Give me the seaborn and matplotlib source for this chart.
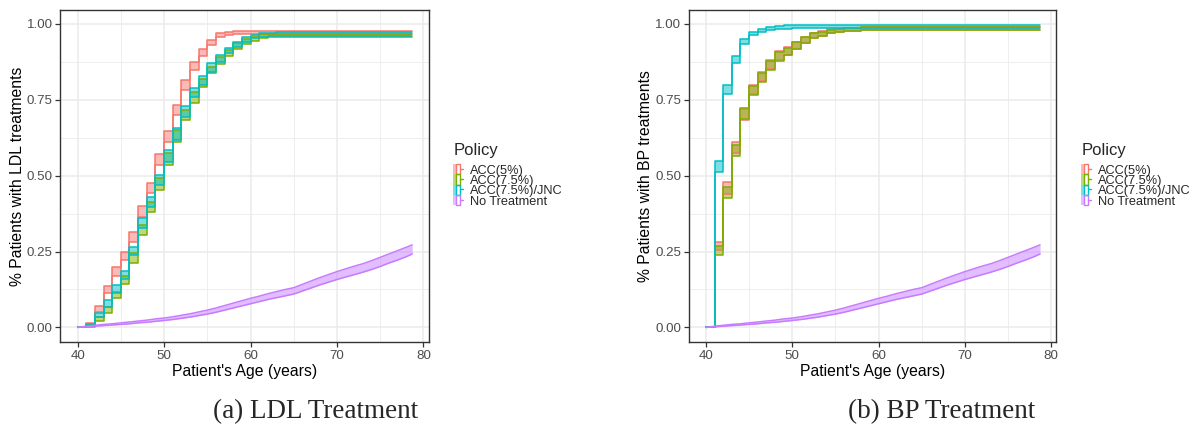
import numpy as np
import pandas as pd
import matplotlib.pyplot as plt
import seaborn as sns
from matplotlib.patches import Patch
from matplotlib.lines import Line2D
from matplotlib.legend_handler import HandlerTuple
from matplotlib.ticker import MultipleLocator


# ages (one value per year, last point is the end of the simulation)
ages = [40, 41, 42, 43, 44, 45, 46, 47, 48, 49,
        50, 51, 52, 53, 54, 55, 56, 57, 58, 59,
        60, 61, 62, 63, 64, 65, 66, 67, 68, 69,
        70, 71, 72, 73, 74, 75, 76, 77, 78, 78.7]

policies = ['ACC(5%)', 'ACC(7.5%)', 'ACC(7.5%)/JNC', 'No Treatment']
colors = ['#F8766D', '#7CAE00', '#00BFC4', '#C77CFF']

# ---- LDL treatment: lower / upper bounds ----
ldl_acc5_lo = [0.000, 0.008, 0.052, 0.112, 0.170, 0.222, 0.282, 0.365, 0.442, 0.535,
               0.612, 0.700, 0.782, 0.848, 0.895, 0.930, 0.957, 0.964, 0.966, 0.967,
               0.967, 0.967, 0.967, 0.967, 0.967, 0.967, 0.967, 0.967, 0.967, 0.967,
               0.967, 0.967, 0.967, 0.967, 0.967, 0.967, 0.967, 0.967, 0.967, 0.967]
ldl_acc5_hi = [0.002, 0.015, 0.070, 0.137, 0.200, 0.249, 0.315, 0.400, 0.477, 0.572,
               0.648, 0.732, 0.815, 0.875, 0.917, 0.948, 0.969, 0.975, 0.977, 0.978,
               0.978, 0.978, 0.978, 0.978, 0.978, 0.978, 0.978, 0.978, 0.978, 0.978,
               0.978, 0.978, 0.978, 0.978, 0.978, 0.978, 0.978, 0.978, 0.978, 0.978]
ldl_acc75_lo = [0.000, 0.003, 0.022, 0.048, 0.096, 0.143, 0.213, 0.304, 0.380, 0.453,
                0.535, 0.612, 0.684, 0.738, 0.791, 0.837, 0.868, 0.894, 0.916, 0.934,
                0.945, 0.953, 0.956, 0.957, 0.957, 0.957, 0.957, 0.957, 0.957, 0.957,
                0.957, 0.957, 0.957, 0.957, 0.957, 0.957, 0.957, 0.957, 0.957, 0.957]
ldl_acc75_hi = [0.002, 0.008, 0.035, 0.068, 0.118, 0.170, 0.244, 0.337, 0.414, 0.491,
                0.574, 0.650, 0.716, 0.777, 0.818, 0.859, 0.892, 0.914, 0.936, 0.949,
                0.958, 0.966, 0.967, 0.968, 0.968, 0.968, 0.968, 0.968, 0.968, 0.968,
                0.968, 0.968, 0.968, 0.968, 0.968, 0.968, 0.968, 0.968, 0.968, 0.968]
ldl_jnc_lo = [0.000, 0.004, 0.033, 0.068, 0.112, 0.160, 0.238, 0.326, 0.398, 0.469,
              0.546, 0.618, 0.695, 0.760, 0.800, 0.843, 0.876, 0.903, 0.925, 0.942,
              0.953, 0.958, 0.960, 0.961, 0.961, 0.961, 0.961, 0.961, 0.961, 0.961,
              0.961, 0.961, 0.961, 0.961, 0.961, 0.961, 0.961, 0.961, 0.961, 0.961]
ldl_jnc_hi = [0.002, 0.010, 0.048, 0.090, 0.140, 0.187, 0.266, 0.360, 0.430, 0.502,
              0.585, 0.656, 0.730, 0.788, 0.829, 0.870, 0.898, 0.922, 0.942, 0.956,
              0.964, 0.969, 0.971, 0.972, 0.972, 0.972, 0.972, 0.972, 0.972, 0.972,
              0.972, 0.972, 0.972, 0.972, 0.972, 0.972, 0.972, 0.972, 0.972, 0.972]

# ---- No treatment (same in both panels) ----
none_lo = [0.000, 0.002, 0.004, 0.006, 0.008, 0.010, 0.012, 0.015, 0.017, 0.020,
           0.023, 0.026, 0.030, 0.034, 0.039, 0.044, 0.050, 0.057, 0.064, 0.071,
           0.078, 0.085, 0.092, 0.098, 0.104, 0.110, 0.120, 0.130, 0.140, 0.149,
           0.158, 0.166, 0.174, 0.182, 0.191, 0.201, 0.212, 0.222, 0.233, 0.242]
none_hi = [0.000, 0.004, 0.007, 0.010, 0.012, 0.015, 0.018, 0.021, 0.024, 0.028,
           0.031, 0.035, 0.040, 0.045, 0.051, 0.057, 0.064, 0.072, 0.080, 0.088,
           0.096, 0.103, 0.111, 0.118, 0.125, 0.131, 0.142, 0.153, 0.164, 0.174,
           0.184, 0.193, 0.202, 0.210, 0.220, 0.231, 0.242, 0.253, 0.264, 0.272]

# ---- BP treatment: lower / upper bounds ----
bp_acc5_lo = [0.000, 0.255, 0.440, 0.575, 0.684, 0.770, 0.812, 0.851, 0.880, 0.898,
              0.918, 0.938, 0.953, 0.961, 0.969, 0.973, 0.976, 0.978, 0.979, 0.980,
              0.980, 0.980, 0.980, 0.980, 0.980, 0.980, 0.980, 0.980, 0.980, 0.980,
              0.980, 0.980, 0.980, 0.980, 0.980, 0.980, 0.980, 0.980, 0.980, 0.980]
bp_acc5_hi = [0.002, 0.282, 0.480, 0.612, 0.720, 0.800, 0.842, 0.881, 0.910, 0.924,
              0.941, 0.957, 0.970, 0.976, 0.982, 0.985, 0.987, 0.988, 0.989, 0.990,
              0.990, 0.990, 0.990, 0.990, 0.990, 0.990, 0.990, 0.990, 0.990, 0.990,
              0.990, 0.990, 0.990, 0.990, 0.990, 0.990, 0.990, 0.990, 0.990, 0.990]
bp_acc75_lo = [0.000, 0.240, 0.425, 0.565, 0.688, 0.766, 0.810, 0.848, 0.878, 0.898,
               0.918, 0.938, 0.953, 0.960, 0.969, 0.972, 0.976, 0.978, 0.979, 0.980,
               0.981, 0.981, 0.981, 0.981, 0.981, 0.981, 0.981, 0.981, 0.981, 0.981,
               0.981, 0.981, 0.981, 0.981, 0.981, 0.981, 0.981, 0.981, 0.981, 0.981]
bp_acc75_hi = [0.002, 0.268, 0.462, 0.600, 0.722, 0.797, 0.839, 0.877, 0.906, 0.922,
               0.940, 0.956, 0.969, 0.975, 0.981, 0.985, 0.987, 0.988, 0.989, 0.990,
               0.991, 0.991, 0.991, 0.991, 0.991, 0.991, 0.991, 0.991, 0.991, 0.991,
               0.991, 0.991, 0.991, 0.991, 0.991, 0.991, 0.991, 0.991, 0.991, 0.991]
bp_jnc_lo = [0.000, 0.512, 0.768, 0.872, 0.933, 0.964, 0.975, 0.980, 0.983, 0.985,
             0.986, 0.986, 0.986, 0.986, 0.986, 0.986, 0.986, 0.986, 0.986, 0.986,
             0.986, 0.986, 0.986, 0.986, 0.986, 0.986, 0.986, 0.986, 0.986, 0.986,
             0.986, 0.986, 0.986, 0.986, 0.986, 0.986, 0.986, 0.986, 0.986, 0.986]
bp_jnc_hi = [0.002, 0.549, 0.799, 0.896, 0.950, 0.975, 0.985, 0.991, 0.994, 0.996,
             0.997, 0.997, 0.997, 0.997, 0.997, 0.997, 0.997, 0.997, 0.997, 0.997,
             0.997, 0.997, 0.997, 0.997, 0.997, 0.997, 0.997, 0.997, 0.997, 0.997,
             0.997, 0.997, 0.997, 0.997, 0.997, 0.997, 0.997, 0.997, 0.997, 0.997]

panels = [
    ('% Patients with LDL treatments', '(a) LDL Treatment',
     [(ldl_acc5_lo, ldl_acc5_hi), (ldl_acc75_lo, ldl_acc75_hi),
      (ldl_jnc_lo, ldl_jnc_hi), (none_lo, none_hi)]),
    ('% Patients with BP treatments', '(b) BP Treatment',
     [(bp_acc5_lo, bp_acc5_hi), (bp_acc75_lo, bp_acc75_hi),
      (bp_jnc_lo, bp_jnc_hi), (none_lo, none_hi)]),
]

sns.set_theme(style='white')
plt.rcParams['font.family'] = 'Liberation Sans'

fig = plt.figure(figsize=(11.94, 4.29), dpi=100)
axes_pos = [[0.0505, 0.2021, 0.3085, 0.7753], [0.5768, 0.2021, 0.3080, 0.7753]]
legend_x = [453 / 1194, 1081 / 1194]
caption_x = [212.7 / 1194, 848 / 1194]

for i, (ylab, caption, bands) in enumerate(panels):
    ax = fig.add_axes(axes_pos[i])
    for (lo, hi), name, col in zip(bands, policies, colors):
        step = 'post' if name != 'No Treatment' else None
        ds = 'steps-post' if step else 'default'
        df = pd.DataFrame({'age': ages, 'lo': lo, 'hi': hi})
        ax.fill_between(df['age'], df['lo'], df['hi'], step=step,
                        color=col, alpha=0.5, lw=0)
        sns.lineplot(data=df, x='age', y='lo', color=col, lw=1.1,
                     drawstyle=ds, estimator=None, ax=ax)
        sns.lineplot(data=df, x='age', y='hi', color=col, lw=1.1,
                     drawstyle=ds, estimator=None, ax=ax)

    ax.set_xlim(38.0, 80.6)
    ax.set_ylim(-0.049, 1.047)
    ax.xaxis.set_major_locator(MultipleLocator(10))
    ax.xaxis.set_minor_locator(MultipleLocator(5))
    ax.yaxis.set_major_locator(MultipleLocator(0.25))
    ax.yaxis.set_minor_locator(MultipleLocator(0.125))
    ax.yaxis.set_major_formatter(lambda v, p: f'{v:.2f}')
    ax.grid(which='major', color='#EBEBEB', lw=1.1)
    ax.grid(which='minor', color='#EBEBEB', lw=0.6)
    ax.set_axisbelow(True)
    for s in ax.spines.values():
        s.set_color('#333333')
        s.set_linewidth(1.0)
    ax.tick_params(which='major', length=3.5, width=0.9, color='#333333',
                   labelsize=9.6, labelcolor='#4D4D4D', pad=2,
                   bottom=True, left=True)
    ax.tick_params(which='minor', length=0)
    ax.set_xlabel("Patient's Age (years)", fontsize=11.3, color='black')
    ax.set_ylabel(ylab, fontsize=11.3, color='black')
    ax.xaxis.set_label_coords(0.5, -0.066)
    ax.yaxis.set_label_coords(-0.097, 0.5)

    handles = [(Patch(facecolor=c, alpha=0.5, lw=0),
                Patch(facecolor='none', edgecolor=c, lw=1.0),
                Line2D([], [], color=c, lw=1.0))
               for c in colors]
    ax.legend(handles, policies,
              handler_map={tuple: HandlerTuple(ndivide=None)},
              loc='upper left', bbox_to_anchor=(legend_x[i], 1 - 164 / 429),
              bbox_transform=fig.transFigure, frameon=False,
              borderpad=0, borderaxespad=0, fontsize=9.2,
              labelspacing=-0.17, handlelength=0.8,
              handleheight=0.85, handletextpad=0.5)
    fig.text(legend_x[i] + 1 / 1194, 1 - 151 / 429, 'Policy', ha='left',
             va='center', fontsize=12)

    fig.text(caption_x[i], 0.04, caption, ha='left', va='center',
             fontsize=19.5, family='Liberation Serif')

fig.savefig('out.png', dpi=100)
